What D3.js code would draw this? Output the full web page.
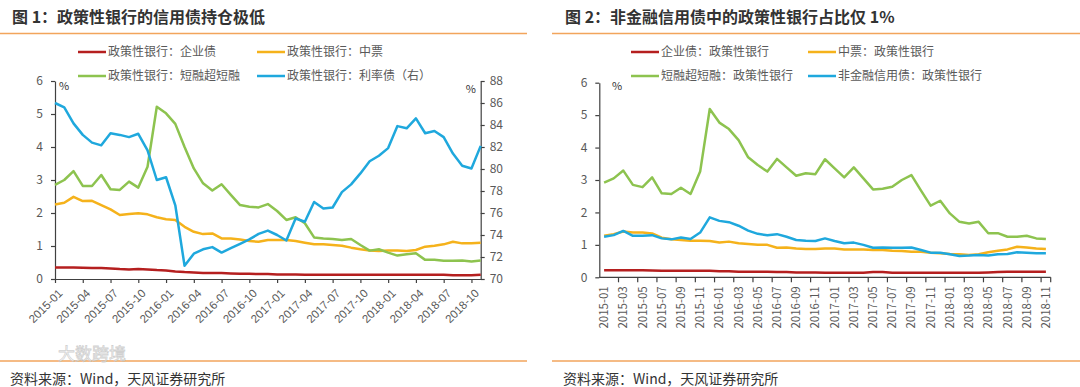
<!DOCTYPE html>
<html><head><meta charset="utf-8">
<script src="https://cdn.jsdelivr.net/npm/d3@7"></script>
<style>
body{margin:0;background:#fff;}
svg{display:block;font-family:"Noto Sans CJK SC","Noto Sans",sans-serif;}
</style></head>
<body><svg id="c" width="1080" height="387"></svg>
<script>
const months = ["2015-01","2015-02","2015-03","2015-04","2015-05","2015-06","2015-07","2015-08","2015-09","2015-10","2015-11","2015-12",
"2016-01","2016-02","2016-03","2016-04","2016-05","2016-06","2016-07","2016-08","2016-09","2016-10","2016-11","2016-12",
"2017-01","2017-02","2017-03","2017-04","2017-05","2017-06","2017-07","2017-08","2017-09","2017-10","2017-11","2017-12",
"2018-01","2018-02","2018-03","2018-04","2018-05","2018-06","2018-07","2018-08","2018-09","2018-10","2018-11"];

// Chart 1 : policy bank holdings (%)
const c1Corp = [0.35,0.35,0.35,0.34,0.33,0.33,0.32,0.30,0.29,0.30,0.29,0.27,0.26,0.23,0.21,0.20,0.18,0.18,0.18,0.17,0.16,0.16,0.15,0.15,
0.14,0.14,0.14,0.13,0.13,0.13,0.13,0.13,0.13,0.13,0.13,0.13,0.13,0.13,0.13,0.13,0.13,0.13,0.13,0.11,0.11,0.11,0.13];
const c1MTN = [2.26,2.31,2.49,2.36,2.37,2.24,2.11,1.94,1.97,1.99,1.96,1.87,1.81,1.79,1.58,1.43,1.36,1.38,1.23,1.23,1.20,1.15,1.13,1.18,
1.18,1.18,1.15,1.10,1.05,1.05,1.03,1.01,0.95,0.90,0.86,0.85,0.86,0.86,0.85,0.88,0.98,1.01,1.05,1.13,1.08,1.08,1.10];
const c1CP = [2.85,3.00,3.27,2.82,2.82,3.15,2.72,2.70,2.95,2.77,3.40,5.22,5.02,4.70,4.00,3.35,2.90,2.68,2.87,2.55,2.24,2.19,2.17,2.27,
2.06,1.79,1.87,1.69,1.26,1.23,1.21,1.18,1.21,1.03,0.86,0.90,0.80,0.71,0.75,0.78,0.58,0.58,0.55,0.55,0.56,0.53,0.56];
const c1Rate = [86.0,85.6,84.15,83.1,82.4,82.15,83.25,83.1,82.9,83.2,81.7,79.0,79.25,76.7,71.2,72.3,72.7,72.9,72.4,72.8,73.2,73.6,74.1,74.4,
74.0,73.5,75.5,75.2,77.0,76.4,76.5,77.9,78.6,79.6,80.7,81.2,81.9,83.9,83.7,84.6,83.25,83.45,82.9,81.4,80.3,80.05,82.1];

// Chart 2 : policy bank share of non-financial credit bonds (%)
const c2Corp = [0.22,0.22,0.22,0.22,0.22,0.21,0.20,0.20,0.20,0.20,0.20,0.20,0.19,0.19,0.17,0.17,0.17,0.17,0.16,0.16,0.15,0.15,0.15,0.14,
0.14,0.14,0.14,0.14,0.16,0.16,0.14,0.14,0.14,0.14,0.14,0.14,0.14,0.14,0.14,0.14,0.15,0.16,0.17,0.17,0.17,0.17,0.17];
const c2MTN = [1.28,1.33,1.41,1.38,1.38,1.35,1.22,1.17,1.15,1.13,1.13,1.12,1.07,1.10,1.05,1.03,1.00,1.00,0.91,0.92,0.89,0.87,0.87,0.89,
0.89,0.86,0.86,0.86,0.84,0.84,0.82,0.81,0.79,0.79,0.76,0.74,0.72,0.71,0.69,0.71,0.77,0.82,0.86,0.94,0.92,0.89,0.87];
const c2CP = [2.92,3.05,3.29,2.85,2.78,3.08,2.59,2.57,2.76,2.57,3.26,5.19,4.77,4.57,4.23,3.70,3.46,3.26,3.65,3.39,3.13,3.21,3.18,3.64,
3.36,3.08,3.39,3.05,2.71,2.73,2.79,3.00,3.15,2.67,2.21,2.36,1.97,1.71,1.66,1.71,1.36,1.36,1.25,1.25,1.28,1.20,1.18];
const c2All = [1.25,1.30,1.43,1.28,1.28,1.30,1.20,1.17,1.23,1.18,1.38,1.85,1.74,1.70,1.59,1.44,1.34,1.30,1.33,1.25,1.15,1.13,1.12,1.20,
1.12,1.05,1.07,1.00,0.91,0.92,0.91,0.91,0.92,0.84,0.76,0.76,0.71,0.66,0.67,0.69,0.67,0.71,0.72,0.77,0.76,0.74,0.74];

const leftTicks = [0,1,2,3,4,5,6];
const rightTicks = [70,72,74,76,78,80,82,84,86,88];
const titles = ["图 1：政策性银行的信用债持仓极低","图 2：非金融信用债中的政策性银行占比仅 1%"];
const legend1 = ["政策性银行：企业债","政策性银行：中票","政策性银行：短融超短融","政策性银行：利率债（右）"];
const legend2 = ["企业债：政策性银行","中票：政策性银行","短融超短融：政策性银行","非金融信用债：政策性银行"];
const source = "资料来源：Wind，天风证券研究所";
const watermark = "大数跨境";
const colors = ["#B51F1F","#F5B21B","#8DC34F","#1FA8DD"];

const svg = d3.select("#c");
const axisCol = "#404040", txtCol = "#595959";
const fmt = d3.format("d");

// titles and rules
[[12,0,527],[565,552,1080]].forEach((p,k)=>{
  svg.append("text").attr("x",p[0]).attr("y",23).attr("font-size",16).attr("font-weight","bold").attr("fill","#333").text(titles[k]);
  svg.append("line").attr("x1",p[1]).attr("x2",p[2]).attr("y1",33.5).attr("y2",33.5).attr("stroke","#F2A55C").attr("stroke-width",1.5);
  svg.append("line").attr("x1",p[1]).attr("x2",p[2]).attr("y1",361).attr("y2",361).attr("stroke","#F2A55C").attr("stroke-width",1.5);
  svg.append("text").attr("x",p[0]-2).attr("y",384).attr("font-size",14).attr("fill","#333").text(source);
});
// watermark (faint)
svg.append("text").attr("x",58).attr("y",360).attr("font-size",17).attr("fill","#fff").attr("fill-opacity",0.6)
  .attr("stroke","#bbb").attr("stroke-width",0.8).attr("stroke-opacity",0.7).text(watermark);

// legends
function legend(items, xs, ys){
  items.forEach((t,i)=>{
    const x = xs[i%2], y = ys[Math.floor(i/2)];
    svg.append("line").attr("x1",x).attr("x2",x+28).attr("y1",y).attr("y2",y).attr("stroke",colors[i]).attr("stroke-width",2.5);
    svg.append("text").attr("x",x+30).attr("y",y).attr("dy","0.35em").attr("font-size",12).attr("fill",txtCol).text(t);
  });
}
legend(legend1,[78,257],[52,76]);
legend(legend2,[631,808],[52,76]);

function styleAxis(g){
  g.select(".domain").attr("stroke",axisCol).attr("stroke-width",1.2);
  g.selectAll(".tick line").attr("stroke",axisCol).attr("stroke-width",1.2);
  g.selectAll(".tick text").attr("fill",txtCol).attr("font-size",12).attr("font-family","'Noto Sans CJK SC','Noto Sans',sans-serif");
}

// ===== Chart 1 =====
const x1 = d3.scalePoint().domain(months).range([55,480.7]);
const y1 = d3.scaleLinear().domain([0,6]).range([279,81]);
const y1r = d3.scaleLinear().domain([70,88]).range([279,81]);

const gx1 = svg.append("g").attr("transform","translate(0,279)")
  .call(d3.axisBottom(x1).tickValues(months.filter((m,i)=>i%3===0)).tickSize(4).tickSizeOuter(0).tickFormat(""));
styleAxis(gx1);
gx1.selectAll(".tick").append("text").attr("fill",txtCol).attr("font-size",11.5)
  .attr("text-anchor","end").attr("transform","translate(5,12) rotate(-45)").attr("dy","0.35em").text(d=>d);
const gy1 = svg.append("g").attr("transform","translate(55,0)")
  .call(d3.axisLeft(y1).tickValues(leftTicks).tickFormat(fmt).tickSize(4).tickSizeOuter(0).tickPadding(8));
styleAxis(gy1);
const gy1r = svg.append("g").attr("transform","translate(480.7,0)")
  .call(d3.axisRight(y1r).tickValues(rightTicks).tickFormat(fmt).tickSize(4).tickSizeOuter(0).tickPadding(5));
styleAxis(gy1r);
svg.append("text").attr("x",59).attr("y",90).attr("font-size",11).attr("fill","#333").text("%");
svg.append("text").attr("x",476).attr("y",93).attr("text-anchor","end").attr("font-size",11).attr("fill","#333").text("%");

const line1 = d3.line().x((d,i)=>x1(months[i])).y(d=>y1(d));
const line1r = d3.line().x((d,i)=>x1(months[i])).y(d=>y1r(d));
[[c1Corp,line1,0],[c1MTN,line1,1],[c1CP,line1,2],[c1Rate,line1r,3]].forEach(([data,ln,k])=>{
  svg.append("path").attr("d",ln(data)).attr("fill","none").attr("stroke",colors[k])
    .attr("stroke-width",2.5).attr("stroke-linejoin","round");
});

// ===== Chart 2 =====
const x2 = d3.scaleBand().domain(months).range([599.3,1050.7]);
const y2 = d3.scaleLinear().domain([0,6]).range([277.3,82.7]);
const gx2 = svg.append("g").attr("transform","translate(0,277.3)");
gx2.append("line").attr("x1",599.3).attr("x2",1050.7).attr("stroke",axisCol).attr("stroke-width",1.2);
months.forEach((m,i)=>{
  if(i%2===0){
    const bx = x2(m);
    if(i>0) gx2.append("line").attr("x1",bx).attr("x2",bx).attr("y1",0).attr("y2",5).attr("stroke",axisCol).attr("stroke-width",1.2);
    gx2.append("text").attr("fill",txtCol).attr("font-size",11.5).attr("text-anchor","end")
      .attr("transform",`translate(${bx+x2.bandwidth()/2},9) rotate(-90)`).attr("dy","0.35em").text(m);
  }
});
gx2.append("line").attr("x1",1050.7).attr("x2",1050.7).attr("y1",0).attr("y2",5).attr("stroke",axisCol).attr("stroke-width",1.2);
const gy2 = svg.append("g").attr("transform","translate(599.3,0)")
  .call(d3.axisLeft(y2).tickValues(leftTicks).tickFormat(fmt).tickSize(4).tickSizeOuter(0).tickPadding(8));
styleAxis(gy2);
svg.append("text").attr("x",612).attr("y",90).attr("font-size",11).attr("fill","#333").text("%");

const line2 = d3.line().x((d,i)=>x2(months[i])+x2.bandwidth()/2).y(d=>y2(d));
[c2Corp,c2MTN,c2CP,c2All].forEach((data,k)=>{
  svg.append("path").attr("d",line2(data)).attr("fill","none").attr("stroke",colors[k])
    .attr("stroke-width",2.5).attr("stroke-linejoin","round");
});
</script></body></html>
